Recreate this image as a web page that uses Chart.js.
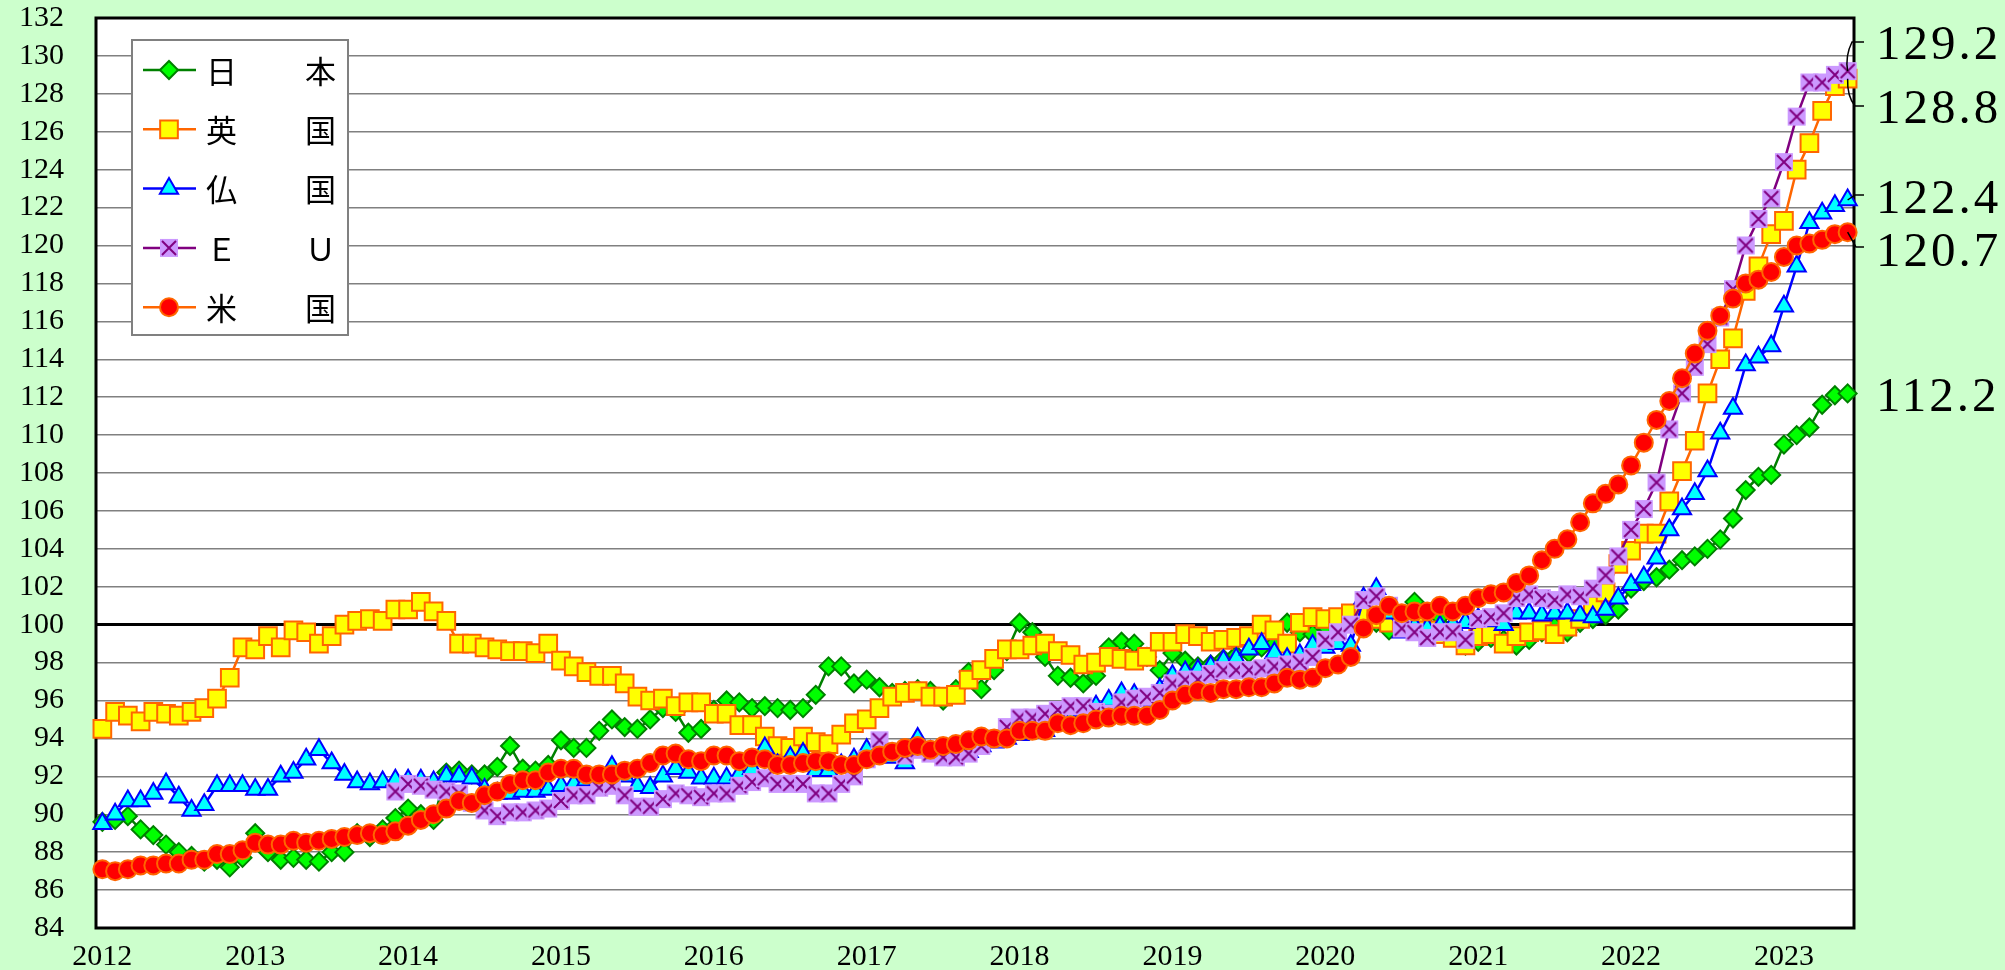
<!DOCTYPE html>
<html>
<head>
<meta charset="utf-8">
<script src="https://cdn.jsdelivr.net/npm/chart.js@4.4.0/dist/chart.umd.min.js"></script>
<style>
html, body { margin: 0; padding: 0; background: #CCFFCC; }
canvas { display: block; }
</style>
</head>
<body>
<canvas id="chart" width="2005" height="970" style="width:2005px;height:970px"></canvas>
<script>
// ===== Data =====
const years = [2012, 2013, 2014, 2015, 2016, 2017, 2018, 2019, 2020, 2021, 2022, 2023];
// monthly categories, Jan 2012 - Jun 2023
const months = [];
years.forEach(y => { for (let m = 1; m <= 12; m++) months.push(y + '/' + m); });
months.length = 138;

const seriesNames = ['日本', '英国', '仏国', 'ＥＵ', '米国'];

const japan = [
  89.6, 89.7, 89.9, 89.2, 88.9, 88.4, 88.0, 87.8, 87.5, 87.6, 87.2, 87.7,
  89.0, 88.0, 87.6, 87.7, 87.6, 87.5, 88.0, 88.0, 89.0, 88.8, 89.2, 89.8,
  90.3, 90.0, 89.7, 92.2, 92.3, 92.1, 92.1, 92.5, 93.6, 92.4, 92.3, 92.6,
  93.9, 93.5, 93.5, 94.4, 95.0, 94.6, 94.5, 95.0, 95.6, 95.4, 94.3, 94.5,
  95.5, 96.0, 95.9, 95.6, 95.7, 95.6, 95.5, 95.6, 96.3, 97.8, 97.8, 96.9,
  97.1, 96.7, 96.4, 96.5, 96.6, 96.5, 96.0, 96.6, 97.5, 96.6, 97.6, 98.6,
  100.1, 99.6, 98.3, 97.3, 97.2, 96.9, 97.3, 98.8, 99.1, 99.0, 98.3, 97.6,
  98.5, 98.1, 97.8, 97.9, 98.2, 98.4, 98.5, 98.8, 99.0, 100.1, 99.6, 99.5,
  99.9, 100.0, 100.2, 100.3, 100.1, 99.7, 100.2, 101.2, 100.5, 100.4, 99.9, 98.9,
  99.1, 99.3, 99.2, 98.9, 99.2, 99.6, 99.9, 99.6, 100.1, 100.3, 100.5, 100.8,
  101.9, 102.3, 102.5, 102.9, 103.4, 103.6, 104.0, 104.5, 105.6, 107.1, 107.8, 107.9,
  109.5, 110.0, 110.4, 111.6, 112.1, 112.2
];
const uk = [
  94.5, 95.4, 95.2, 94.9, 95.4, 95.3, 95.2, 95.4, 95.6, 96.1, 97.2, 98.8,
  98.7, 99.4, 98.8, 99.7, 99.6, 99.0, 99.4, 100.0, 100.2, 100.3, 100.2, 100.8,
  100.8, 101.2, 100.7, 100.2, 99.0, 99.0, 98.8, 98.7, 98.6, 98.6, 98.5, 99.0,
  98.1, 97.8, 97.5, 97.3, 97.3, 96.9, 96.2, 96.0, 96.1, 95.7, 95.9, 95.9,
  95.3, 95.3, 94.7, 94.7, 94.1, 93.6, 93.5, 94.1, 93.8, 93.7, 94.2, 94.8,
  95.0, 95.6, 96.2, 96.4, 96.5, 96.2, 96.2, 96.3, 97.1, 97.6, 98.2, 98.7,
  98.7, 98.9, 99.0, 98.6, 98.4, 97.9, 98.0, 98.3, 98.2, 98.1, 98.3, 99.1,
  99.1, 99.5, 99.4, 99.1, 99.2, 99.3, 99.4, 100.0, 99.7, 99.0, 100.1, 100.4,
  100.3, 100.4, 100.6, 100.5, 100.3, 100.1, 100.2, 99.9, 99.7, 99.5, 99.3, 98.9,
  99.4, 99.5, 99.0, 99.4, 99.6, 99.7, 99.5, 99.9, 100.3, 101.0, 101.7, 103.2,
  103.9, 104.8, 104.8, 106.5, 108.1, 109.7, 112.2, 114.0, 115.1, 117.6, 118.9, 120.6,
  121.3, 124.0, 125.4, 127.1, 128.4, 128.8
];
const france = [
  89.5, 90.0, 90.7, 90.7, 91.1, 91.6, 90.9, 90.2, 90.5, 91.5, 91.5, 91.5,
  91.3, 91.3, 92.0, 92.2, 92.9, 93.4, 92.7, 92.1, 91.7, 91.6, 91.7, 91.8,
  91.8, 91.8, 91.7, 92.0, 92.0, 91.9, 91.3, 91.1, 91.1, 91.2, 91.2, 91.3,
  91.5, 91.6, 91.8, 91.9, 92.5, 92.0, 91.5, 91.4, 92.0, 92.4, 92.2, 91.9,
  91.9, 91.9, 92.1, 92.4, 93.5, 92.6, 93.0, 93.2, 92.3, 92.3, 92.6, 92.9,
  93.4, 93.2, 93.0, 92.7, 94.0, 93.3, 93.2, 93.1, 93.3, 93.6, 93.8, 94.0,
  94.2, 94.3, 94.4, 94.8, 95.0, 95.3, 95.7, 96.0, 96.4, 96.3, 96.0, 96.6,
  97.3, 97.5, 97.6, 97.8, 98.1, 98.2, 98.7, 99.0, 98.5, 98.2, 98.4, 98.9,
  98.8, 99.0, 98.9, 101.4, 101.9, 100.6, 99.6, 99.9, 99.8, 99.9, 100.0, 100.1,
  100.3, 100.2, 100.0, 100.6, 100.6, 100.5, 100.6, 100.6, 100.5, 100.4, 100.8, 101.4,
  102.1, 102.5, 103.5, 105.0, 106.1, 106.9, 108.1, 110.1, 111.4, 113.7, 114.1, 114.7,
  116.8, 118.9, 121.2, 121.7, 122.1, 122.4
];
const eu = [
  null, null, null, null, null, null, null, null, null, null, null, null,
  null, null, null, null, null, null, null, null, null, null, null, 91.2,
  91.6, 91.5, 91.3, 91.2, 91.1, 90.6, 90.2, 89.9, 90.1, 90.1, 90.2, 90.3,
  90.7, 91.0, 91.0, 91.4, 91.5, 91.0, 90.4, 90.4, 90.8, 91.1, 91.0, 90.9,
  91.1, 91.1, 91.5, 91.7, 91.9, 91.6, 91.6, 91.6, 91.1, 91.1, 91.6, 92.0,
  92.9, 93.9, 93.3, 93.1, 93.4, 93.2, 93.0, 93.0, 93.2, 93.6, 94.0, 94.6,
  95.1, 95.1, 95.3, 95.5, 95.7, 95.7, 95.4, 95.3, 95.9, 96.1, 96.2, 96.4,
  96.9, 97.1, 97.1, 97.4, 97.6, 97.6, 97.6, 97.7, 97.8, 97.9, 98.0, 98.3,
  99.2, 99.6, 100.0, 101.3, 101.5, 101.0, 99.8, 99.6, 99.3, 99.6, 99.6, 99.2,
  100.3, 100.4, 100.6, 101.4, 101.6, 101.4, 101.3, 101.6, 101.5, 101.9, 102.6, 103.6,
  105.0, 106.1, 107.5, 110.3, 112.2, 113.6, 114.8, 116.2, 117.7, 120.0, 121.4, 122.5,
  124.4, 126.8, 128.6, 128.6, 129.0, 129.2
];
const us = [
  87.1, 87.0, 87.1, 87.3, 87.3, 87.4, 87.4, 87.6, 87.6, 87.9, 87.9, 88.1,
  88.5, 88.4, 88.4, 88.6, 88.5, 88.6, 88.7, 88.8, 88.9, 89.0, 88.9, 89.1,
  89.4, 89.7, 90.0, 90.3, 90.7, 90.6, 91.0, 91.2, 91.6, 91.8, 91.8, 92.2,
  92.4, 92.4, 92.1, 92.1, 92.1, 92.3, 92.4, 92.7, 93.1, 93.2, 92.9, 92.8,
  93.1, 93.1, 92.8, 93.0, 92.9, 92.6, 92.6, 92.7, 92.8, 92.8, 92.6, 92.6,
  92.9, 93.1, 93.3, 93.5, 93.6, 93.4, 93.6, 93.7, 93.9, 94.1, 94.0, 94.0,
  94.4, 94.4, 94.4, 94.8, 94.7, 94.8, 95.0, 95.1, 95.2, 95.2, 95.2, 95.5,
  96.0, 96.3, 96.5, 96.4, 96.6, 96.6, 96.7, 96.7, 96.9, 97.2, 97.1, 97.2,
  97.7, 97.9, 98.3, 99.8, 100.5, 101.0, 100.6, 100.7, 100.7, 101.0, 100.7, 101.0,
  101.4, 101.6, 101.7, 102.2, 102.6, 103.4, 104.0, 104.5, 105.4, 106.4, 106.9, 107.4,
  108.4, 109.6, 110.8, 111.8, 113.0, 114.3, 115.5, 116.3, 117.2, 118.0, 118.2, 118.6,
  119.4, 120.0, 120.1, 120.3, 120.6, 120.7
];

// latest values written at the right edge
const endLabels = ['129.2', '128.8', '122.4', '120.7', '112.2'];

// ===== EU marker: lavender square with purple cross =====
const euMark = document.createElement('canvas');
euMark.width = 20;
euMark.height = 20;
const mc = euMark.getContext('2d');
mc.fillStyle = '#CC99FF';
mc.fillRect(1, 1, 18, 18);
mc.strokeStyle = '#800080';
mc.lineWidth = 2;
mc.beginPath();
mc.moveTo(3, 3); mc.lineTo(17, 17);
mc.moveTo(17, 3); mc.lineTo(3, 17);
mc.stroke();

function makeSeries(label, data, line, fill, border, style, radius, order) {
  return {
    label: label,
    data: data,
    borderColor: line,
    borderWidth: 2.5,
    pointStyle: style,
    pointRadius: radius,
    pointBackgroundColor: fill,
    pointBorderColor: border,
    pointBorderWidth: 2,
    tension: 0,
    spanGaps: false,
    clip: false,
    order: order
  };
}

// ===== Plugins =====
const plotBg = {
  id: 'plotBg',
  beforeDraw(chart) {
    const { ctx, chartArea: a } = chart;
    ctx.save();
    ctx.fillStyle = '#FFFFFF';
    ctx.fillRect(a.left, a.top, a.right - a.left, a.bottom - a.top);
    ctx.restore();
  },
  beforeDatasetsDraw(chart) {
    const { ctx, chartArea: a } = chart;
    ctx.save();
    ctx.strokeStyle = '#000000';
    ctx.lineWidth = 3;
    ctx.strokeRect(a.left, a.top, a.right - a.left, a.bottom - a.top);
    ctx.restore();
  }
};

function drawMarker(ctx, ds, x, y) {
  ctx.save();
  ctx.fillStyle = ds.pointBackgroundColor;
  ctx.strokeStyle = ds.pointBorderColor;
  ctx.lineWidth = ds.pointBorderWidth;
  Chart.helpers.drawPoint(ctx, {
    pointStyle: ds.pointStyle,
    rotation: 0,
    radius: ds.pointRadius,
    borderWidth: ds.pointBorderWidth
  }, x, y);
  ctx.restore();
}

const legendBox = {
  id: 'legendBox',
  afterDraw(chart) {
    const ctx = chart.ctx;
    ctx.save();
    ctx.fillStyle = '#FFFFFF';
    ctx.fillRect(132, 40, 216, 295);
    ctx.strokeStyle = '#808080';
    ctx.lineWidth = 2;
    ctx.strokeRect(132, 40, 216, 295);
    chart.data.datasets.forEach((ds, k) => {
      const y = 70 + k * 59.3;
      ctx.strokeStyle = ds.borderColor;
      ctx.lineWidth = 2.5;
      ctx.beginPath();
      ctx.moveTo(143, y);
      ctx.lineTo(196, y);
      ctx.stroke();
      drawMarker(ctx, ds, 169, y);
      ctx.fillStyle = '#000000';
      ctx.font = '31px "Noto Sans CJK JP"';
      ctx.textBaseline = 'middle';
      ctx.textAlign = 'left';
      ctx.fillText(ds.label.charAt(0), 206, y + 1);
      ctx.textAlign = 'right';
      ctx.fillText(ds.label.charAt(1), 336, y + 1);
    });
    ctx.restore();
  }
};

const endNotes = {
  id: 'endNotes',
  afterDraw(chart) {
    const ctx = chart.ctx;
    const xs = chart.scales.x, ys = chart.scales.y;
    const last = months.length - 1;
    const px = xs.getPixelForValue(last);
    const tx = 1876;
    const textY = [43, 107, 197, 250, 395];
    ctx.save();
    ctx.fillStyle = '#000000';
    ctx.font = '49px "Liberation Serif"';
    ctx.letterSpacing = '3px';
    ctx.textAlign = 'left';
    ctx.textBaseline = 'alphabetic';
    endLabels.forEach((t, k) => ctx.fillText(t, tx, textY[k] + 16));

    // leader lines
    ctx.strokeStyle = '#000000';
    ctx.lineWidth = 1.5;
    ctx.beginPath();
    ctx.moveTo(1864, 42);
    ctx.lineTo(1852, 42);
    ctx.quadraticCurveTo(1845, 56, px, ys.getPixelForValue(eu[last]));
    ctx.moveTo(1864, 106);
    ctx.lineTo(1855, 106);
    ctx.quadraticCurveTo(1847, 96, px, ys.getPixelForValue(uk[last]));
    ctx.moveTo(px, ys.getPixelForValue(france[last]));
    ctx.lineTo(1855, 195);
    ctx.lineTo(1864, 195);
    ctx.moveTo(px, ys.getPixelForValue(us[last]));
    ctx.lineTo(1856, 247);
    ctx.lineTo(1864, 247);
    ctx.stroke();
    ctx.restore();
  }
};

// ===== Chart =====
const tickFont = { family: '"Liberation Serif", "Times New Roman", serif', size: 30 };

new Chart(document.getElementById('chart').getContext('2d'), {
  type: 'line',
  data: {
    labels: months,
    datasets: [
      makeSeries(seriesNames[0], japan, '#008000', '#00FF00', '#008000', 'rectRot', 9, 5),
      makeSeries(seriesNames[1], uk, '#FF6600', '#FFFF00', '#FF6600', 'rect', 12.5, 4),
      makeSeries(seriesNames[2], france, '#0000FF', '#00FFFF', '#0000FF', 'triangle', 10.5, 3),
      makeSeries(seriesNames[3], eu, '#800080', '#CC99FF', '#800080', euMark, 10, 2),
      makeSeries(seriesNames[4], us, '#FF6600', '#FF0000', '#FF6600', 'circle', 9, 1)
    ]
  },
  options: {
    responsive: false,
    animation: false,
    layout: { padding: { top: 18, right: 151, left: 0, bottom: 0 } },
    plugins: { legend: { display: false }, tooltip: { enabled: false } },
    scales: {
      x: {
        type: 'category',
        offset: true,
        grid: { display: false },
        border: { display: false },
        ticks: {
          autoSkip: false,
          maxRotation: 0,
          minRotation: 0,
          padding: 3,
          color: '#000000',
          font: tickFont,
          callback: function(val, idx) {
            const s = months[idx];
            return s.endsWith('/1') ? s.split('/')[0] : '';
          }
        },
        afterFit(scale) {
          scale.height = 42;
          scale.paddingLeft = 0;
          scale.paddingRight = 0;
        }
      },
      y: {
        min: 84,
        max: 132,
        border: { display: false },
        grid: {
          drawTicks: false,
          color: ctx => (ctx.tick && ctx.tick.value === 100) ? '#000000' : '#808080',
          lineWidth: ctx => (ctx.tick && ctx.tick.value === 100) ? 3 : 1.5
        },
        ticks: {
          stepSize: 2,
          autoSkip: false,
          padding: 32,
          color: '#000000',
          font: tickFont
        },
        afterFit(scale) {
          scale.width = 96;
          scale.paddingTop = 0;
          scale.paddingBottom = 0;
        }
      }
    }
  },
  plugins: [plotBg, legendBox, endNotes]
});
</script>
</body>
</html>
